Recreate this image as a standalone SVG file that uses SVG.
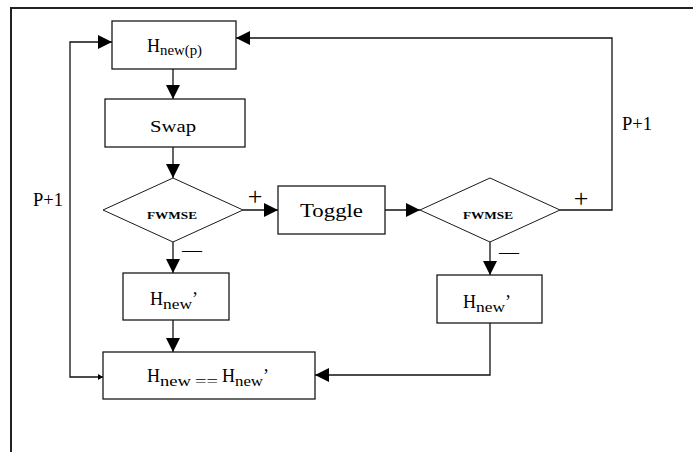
<svg xmlns="http://www.w3.org/2000/svg" width="693" height="452" viewBox="0 0 693 452">
<style>
.box{fill:#fff;stroke:#1a1a1a;stroke-width:1.3}
.dia{fill:#fff;stroke:#1a1a1a;stroke-width:1}
.ln{fill:none;stroke:#111;stroke-width:1.3}
.frame{fill:none;stroke:#222;stroke-width:2}
text{font-family:"Liberation Serif","Times New Roman",serif;fill:#000}
.t{font-size:18px}
.sub{font-size:14px}
.fw{font-size:11px;font-weight:bold}
.pm{font-size:26px;font-weight:normal}
</style>
<defs>
<marker id="ah" markerUnits="userSpaceOnUse" markerWidth="14" markerHeight="14" refX="14" refY="7" orient="auto">
<path d="M0,0 L14,7 L0,14 z" fill="#000"/>
</marker>
<marker id="ahs" markerUnits="userSpaceOnUse" markerWidth="5" markerHeight="6" refX="5" refY="3" orient="auto-start-reverse">
<path d="M0,0 L5,3 L0,6 z" fill="#000"/>
</marker>
</defs>
<rect width="693" height="452" fill="#fff"/>
<path class="frame" d="M11,452 V8 H693"/>

<g id="connectors">
<path class="ln" d="M173,69 V99" marker-end="url(#ah)"/>
<path class="ln" d="M173,147 V178" marker-end="url(#ah)"/>
<path class="ln" d="M243,210 H278" marker-end="url(#ah)"/>
<path class="ln" d="M385,210 H420" marker-end="url(#ah)"/>
<path class="ln" d="M560,210 H612 V38 H236" marker-end="url(#ah)"/>
<path class="ln" d="M173,242 V273" marker-end="url(#ah)"/>
<path class="ln" d="M173,320 V352" marker-end="url(#ah)"/>
<path class="ln" d="M490,242 V275" marker-end="url(#ah)"/>
<path class="ln" d="M490,323 V375 H315" marker-end="url(#ah)"/>
<path class="ln" d="M103,377 H70 V42 H112" marker-start="url(#ahs)" marker-end="url(#ah)"/>
<text class="t" x="33" y="206" textLength="30" lengthAdjust="spacingAndGlyphs">P+1</text>
<text class="t" x="622" y="130" textLength="30" lengthAdjust="spacingAndGlyphs">P+1</text>
<text class="pm" x="255" y="205" text-anchor="middle">+</text>
<text class="pm" x="581" y="207" text-anchor="middle">+</text>
<text x="192" y="257" font-size="20" text-anchor="middle">—</text>
<text x="509" y="259" font-size="20" text-anchor="middle">—</text>
</g>

<g id="hnewp">
<rect class="box" x="112" y="21" width="124" height="48"/>
<text class="t" x="147" y="52">H<tspan class="sub" dy="3" textLength="42" lengthAdjust="spacingAndGlyphs">new(p)</tspan></text>
</g>
<g id="swap">
<rect class="box" x="105" y="99" width="140" height="48"/>
<text x="150" y="132" font-size="17" textLength="46" lengthAdjust="spacingAndGlyphs">Swap</text>
</g>
<g id="fwmse1">
<polygon class="dia" points="173,178 243,210 173,242 103,210"/>
<text class="fw" x="147" y="219" textLength="50" lengthAdjust="spacingAndGlyphs">FWMSE</text>
</g>
<g id="toggle">
<rect class="box" x="278" y="186" width="107" height="48"/>
<text class="t" x="300" y="217" textLength="63" lengthAdjust="spacingAndGlyphs">Toggle</text>
</g>
<g id="fwmse2">
<polygon class="dia" points="490,178 560,210 490,242 420,210"/>
<text class="fw" x="463" y="219" textLength="50" lengthAdjust="spacingAndGlyphs">FWMSE</text>
</g>
<g id="hnew1">
<rect class="box" x="123" y="273" width="106" height="47"/>
<text class="t" x="150" y="305">H<tspan class="sub" dy="4" textLength="29" lengthAdjust="spacingAndGlyphs">new</tspan><tspan dy="-4">’</tspan></text>
</g>
<g id="hnew2">
<rect class="box" x="437" y="275" width="105" height="48"/>
<text class="t" x="463" y="308">H<tspan class="sub" dy="4" textLength="29" lengthAdjust="spacingAndGlyphs">new</tspan><tspan dy="-4">’</tspan></text>
</g>
<g id="compare">
<rect class="box" x="103" y="352" width="212" height="47"/>
<text class="t" x="147" y="382">H<tspan class="sub" dy="4" textLength="31" lengthAdjust="spacingAndGlyphs">new</tspan><tspan class="sub" x="195" textLength="23" lengthAdjust="spacingAndGlyphs">==</tspan><tspan x="222" dy="-4">H</tspan><tspan class="sub" dy="4" textLength="28" lengthAdjust="spacingAndGlyphs">new</tspan><tspan dy="-4">’</tspan></text>
</g>
</svg>
